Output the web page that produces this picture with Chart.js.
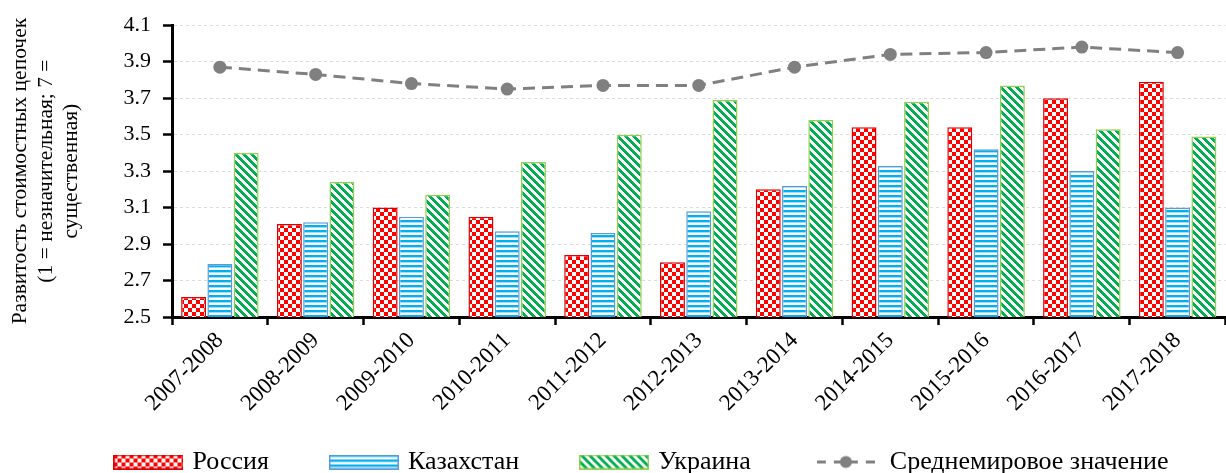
<!DOCTYPE html>
<html lang="ru">
<head>
<meta charset="utf-8">
<title>Развитость стоимостных цепочек</title>
<script src="https://cdn.jsdelivr.net/npm/chart.js@4.4.1/dist/chart.umd.min.js"></script>
<style>
  html, body { margin: 0; padding: 0; background: #fff; overflow: hidden; }
  #wrap { width: 1232px; height: 473px; }
</style>
</head>
<body>
<div id="wrap"><canvas id="chart" width="1232" height="473"></canvas></div>
<script>
const categories = ['2007-2008', '2008-2009', '2009-2010', '2010-2011', '2011-2012', '2012-2013',
    '2013-2014', '2014-2015', '2015-2016', '2016-2017', '2017-2018'];
const russia = [2.61, 3.01, 3.10, 3.05, 2.84, 2.80, 3.20, 3.54, 3.54, 3.70, 3.79];
const kazakhstan = [2.79, 3.02, 3.05, 2.97, 2.96, 3.08, 3.22, 3.33, 3.42, 3.30, 3.10];
const ukraine = [3.40, 3.24, 3.17, 3.35, 3.50, 3.69, 3.58, 3.68, 3.77, 3.53, 3.49];
const worldAverage = [3.87, 3.83, 3.78, 3.75, 3.77, 3.77, 3.87, 3.94, 3.95, 3.98, 3.95];
const seriesNames = ['Россия', 'Казахстан', 'Украина', 'Среднемировое значение'];
const yTicks = [2.5, 2.7, 2.9, 3.1, 3.3, 3.5, 3.7, 3.9, 4.1];
const yTitle = ['Развитость стоимостных цепочек', '(1 = незначительная; 7 =', 'существенная)'];

const FONT = 'Liberation Serif';

const makeCanvas = (w, h) => {
    const c = document.createElement('canvas');
    c.width = w;
    c.height = h;
    return c;
};

// плитки штриховки
const checkerTile = () => {
    const c = makeCanvas(8, 8);
    const g = c.getContext('2d');
    g.fillStyle = '#ffffff';
    g.fillRect(0, 0, 8, 8);
    g.fillStyle = '#ff0000';
    g.fillRect(0, 0, 4, 4);
    g.fillRect(4, 4, 4, 4);
    return c;
};

const hStripeTile = () => {
    const c = makeCanvas(4, 5);
    const g = c.getContext('2d');
    const rows = ['#00b0f0', '#00b0f0', '#9fdcf7', '#ffffff', '#ffffff'];
    rows.forEach((col, i) => {
        g.fillStyle = col;
        g.fillRect(0, i, 4, 1);
    });
    return c;
};

const diagTile = () => {
    const c = makeCanvas(8, 8);
    const g = c.getContext('2d');
    for (let y = 0; y < 8; y++) {
        for (let x = 0; x < 8; x++) {
            const d = ((x - y) % 8 + 8) % 8;
            g.fillStyle = d < 4 ? '#00b050' : '#ffffff';
            g.fillRect(x, y, 1, 1);
        }
    }
    return c;
};

const ctx = document.getElementById('chart').getContext('2d');
const tiles = [checkerTile(), hStripeTile(), diagTile()];
const borders = ['#e00000', '#5b9bd5', '#92d050'];

// картинки для легенды
const legendBox = (i) => {
    const c = makeCanvas(70, 15);
    const g = c.getContext('2d');
    g.fillStyle = g.createPattern(tiles[i], 'repeat');
    g.fillRect(0, 0, 70, 15);
    g.strokeStyle = borders[i];
    g.lineWidth = 1.5;
    g.strokeRect(0.75, 0.75, 68.5, 13.5);
    return c;
};

const legendLine = () => {
    const c = makeCanvas(58, 15);
    const g = c.getContext('2d');
    g.strokeStyle = '#808080';
    g.fillStyle = '#808080';
    g.lineWidth = 3;
    [[0, 9], [17, 41], [49, 58]].forEach(([a, b]) => {
        g.beginPath();
        g.moveTo(a, 7.5);
        g.lineTo(b, 7.5);
        g.stroke();
    });
    g.beginPath();
    g.arc(29, 7.5, 6, 0, Math.PI * 2);
    g.fill();
    return c;
};

const legendImages = [legendBox(0), legendBox(1), legendBox(2), legendLine()];

const barSet = (label, data, i) => ({
    label,
    data,
    backgroundColor: ctx.createPattern(tiles[i], 'repeat'),
    borderColor: borders[i],
    borderWidth: 1.5,
    categoryPercentage: 0.823,
    barPercentage: 0.95,
});

// легенда: сдвиг вправо и вверх, чтобы строка встала как в оригинале
const LEGEND_PAD = 64;
const moveLegend = {
    id: 'moveLegend',
    afterUpdate(chart) {
        const lg = chart.legend;
        lg.left += 27;
        lg.right += 27;
        lg.top = 449 - LEGEND_PAD;
    }
};

new Chart(ctx, {
    type: 'bar',
    data: {
        labels: categories,
        datasets: [
            barSet(seriesNames[0], russia, 0),
            barSet(seriesNames[1], kazakhstan, 1),
            barSet(seriesNames[2], ukraine, 2),
            {
                type: 'line',
                label: seriesNames[3],
                data: worldAverage,
                borderColor: '#808080',
                backgroundColor: '#808080',
                borderWidth: 3,
                borderDash: [12, 7],
                tension: 0,
                pointRadius: 6.5,
                pointBorderWidth: 0,
                pointBackgroundColor: '#808080',
                fill: false,
            },
        ],
    },
    options: {
        responsive: false,
        animation: false,
        devicePixelRatio: 1,
        layout: { padding: { top: 17, left: 0, right: 0, bottom: 0 } },
        scales: {
            x: {
                offset: true,
                afterFit: (s) => { s.height = 126; },
                grid: {
                    offset: true,
                    drawOnChartArea: false,
                    drawTicks: true,
                    tickLength: 8,
                    tickColor: '#000',
                    tickWidth: 2.5,
                },
                border: { display: true, color: '#000', width: 3 },
                ticks: {
                    autoSkip: false,
                    minRotation: 45,
                    maxRotation: 45,
                    padding: 2,
                    color: '#000',
                    font: { family: FONT, size: 23 },
                },
            },
            y: {
                min: yTicks[0],
                max: yTicks[yTicks.length - 1],
                afterFit: (s) => { s.width = 172; },
                afterBuildTicks: (s) => { s.ticks = yTicks.map((v) => ({ value: v })); },
                grid: {
                    color: '#dcdcdc',
                    lineWidth: 1,
                    tickLength: 9,
                    tickColor: '#000',
                    tickWidth: 2.5,
                    tickBorderDash: [],
                },
                border: { display: true, color: '#000', width: 3, dash: [3, 3] },
                ticks: {
                    padding: 12,
                    color: '#000',
                    font: { family: FONT, size: 22 },
                    callback: (v) => Number(v).toFixed(1),
                },
                title: {
                    display: true,
                    text: yTitle,
                    color: '#000',
                    font: { family: FONT, size: 21.5, lineHeight: 1.18 },
                    padding: { top: 8, bottom: 0 },
                },
            },
        },
        plugins: {
            tooltip: { enabled: false },
            legend: {
                display: true,
                position: 'bottom',
                maxHeight: 30,
                labels: {
                    usePointStyle: true,
                    pointStyleWidth: 62,
                    boxHeight: 15,
                    padding: LEGEND_PAD,
                    color: '#000',
                    font: { family: FONT, size: 26 },
                    generateLabels: (chart) => chart.data.datasets.map((ds, i) => ({
                        text: ds.label,
                        pointStyle: legendImages[i],
                        fillStyle: ds.borderColor,
                        strokeStyle: ds.borderColor,
                        lineWidth: 0,
                        hidden: false,
                        datasetIndex: i,
                    })),
                },
            },
        },
    },
    plugins: [moveLegend],
});
</script>
</body>
</html>
